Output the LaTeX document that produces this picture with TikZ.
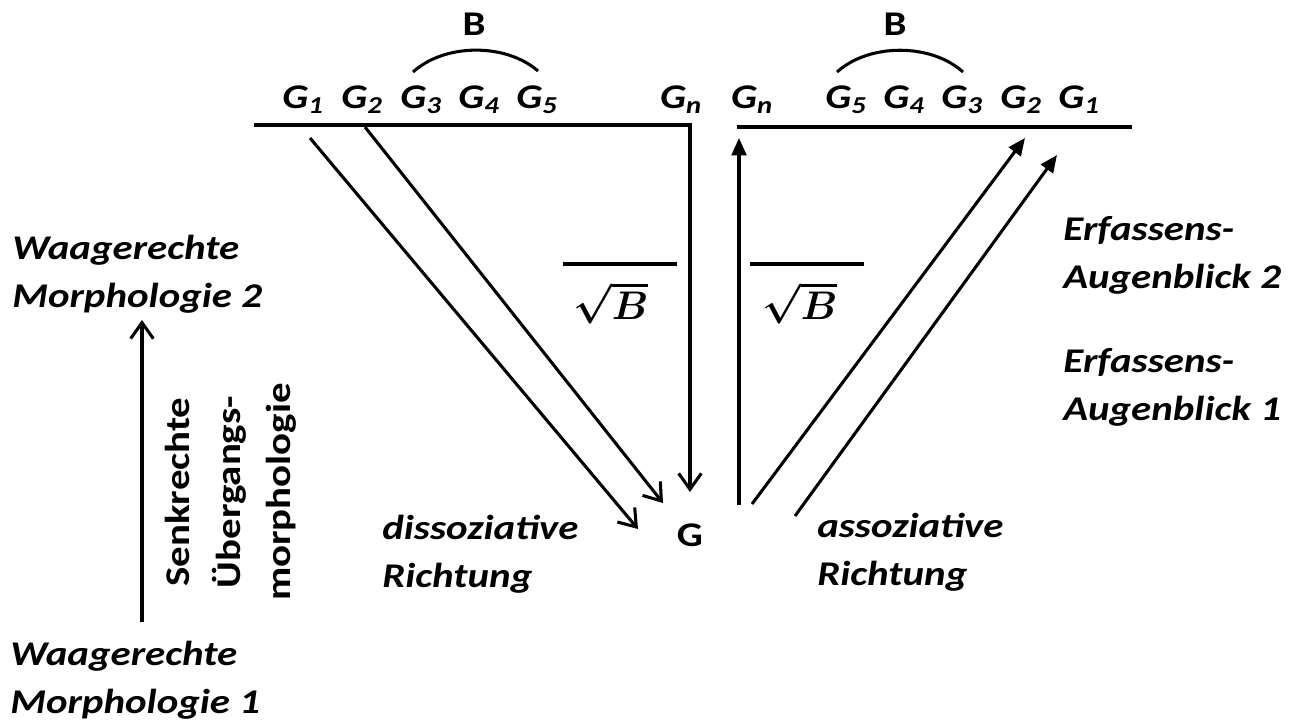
\RequirePackage{fix-cm}
\documentclass[tikz,border=0pt]{standalone}
\usepackage{fontspec}
\usepackage{bm}
\setmainfont{Carlito}[FakeStretch=1.18]
\usetikzlibrary{arrows.meta}

\begin{document}
\begin{tikzpicture}[
  x=0.75pt,y=-0.75pt,
  line/.style={draw=black,line width=2.5pt},
  arc/.style={draw=black,line width=2.3pt},
  barb/.style={draw=black,line width=2.3pt,-{Straight Barb[length=12pt,width=17pt]}},
  head/.style={draw=black,line width=2.3pt,-{Triangle[length=13pt,width=11pt]}},
  label/.style={font=\fontsize{26}{36}\selectfont\bfseries\itshape,inner sep=0pt,anchor=base west,align=left},
  gene/.style={font=\fontsize{26}{30}\selectfont\bfseries\itshape,inner sep=0pt,anchor=base},
  upright/.style={font=\fontsize{26}{38}\selectfont\bfseries,inner sep=0pt},
  root/.style={font=\fontsize{30}{34}\selectfont\boldmath,inner sep=0pt},
]
\useasboundingbox (0,0) rectangle (1302,725);

% left row of G's
\foreach \i/\x in {1/303,2/362,3/421,4/479,5/537}
  \node[gene] (gl\i) at (\x,108) {G\textsubscript{\i}};
\node[gene] (gln) at (681,108) {G\textsubscript{n}};
\node[upright,anchor=base] (bl) at (474,35) {B};
\coordinate (bla) at (413,72);
\coordinate (blb) at (538,71);
\draw[arc] (bla) .. controls (445,43) and (506,43) .. (blb);

% right row of G's
\foreach \i/\x in {5/846,4/904,3/962,2/1021,1/1079}
  \node[gene] (gr\i) at (\x,108) {G\textsubscript{\i}};
\node[gene] (grn) at (752,108) {G\textsubscript{n}};
\node[upright,anchor=base] (br) at (895,35) {B};
\coordinate (bra) at (837,72);
\coordinate (brb) at (963,72);
\draw[arc] (bra) .. controls (869,43) and (931,43) .. (brb);

% dissociative side
\coordinate (lbarl) at (254,125);
\coordinate (lbarr) at (690,125);
\coordinate (dn) at (690,492);
\draw[line,barb] (lbarl) -- (lbarr) -- (dn);
\coordinate (d1s) at (310,138);
\coordinate (d1e) at (638,529);
\coordinate (d2s) at (365,127);
\coordinate (d2e) at (663,503);
\draw[barb] (d1s) -- (d1e);
\draw[barb] (d2s) -- (d2e);
\draw[line] (563,264) -- (677,264);
\node[root] (rtl) at (611,303) {$\sqrt{\bm{B}}$};

% associative side
\draw[line] (737,127) -- (1132,127);
\coordinate (ups) at (739,505);
\coordinate (upe) at (739,138);
\draw[head] (ups) -- (upe);
\coordinate (a2s) at (752,504);
\coordinate (a2e) at (1025,138);
\coordinate (a1s) at (795,516);
\coordinate (a1e) at (1057,155);
\draw[head] (a2s) -- (a2e);
\draw[head] (a1s) -- (a1e);
\draw[line] (750,264) -- (864,264);
\node[root] (rtr) at (800,303) {$\sqrt{\bm{B}}$};

\node[upright,anchor=base] (g) at (690,546) {G};
\node[label] (dis) at (382,587) {dissoziative\\Richtung};
\node[label] (ass) at (817,585) {assoziative\\Richtung};
\node[label] (ea2) at (1063,288) {Erfassens-\\Augenblick 2};
\node[label] (ea1) at (1063,420) {Erfassens-\\Augenblick 1};

% vertical transition
\node[label] (wm2) at (12,307) {Waagerechte\\Morphologie 2};
\node[label] (wm1) at (10,713) {Waagerechte\\Morphologie 1};
\coordinate (vs) at (142,622);
\coordinate (ve) at (142,320);
\draw[barb] (vs) -- (ve);
\node[upright,rotate=90,align=center] (sue) at (231,492) {Senkrechte\\Übergangs-\\morphologie};

\end{tikzpicture}
\end{document}
